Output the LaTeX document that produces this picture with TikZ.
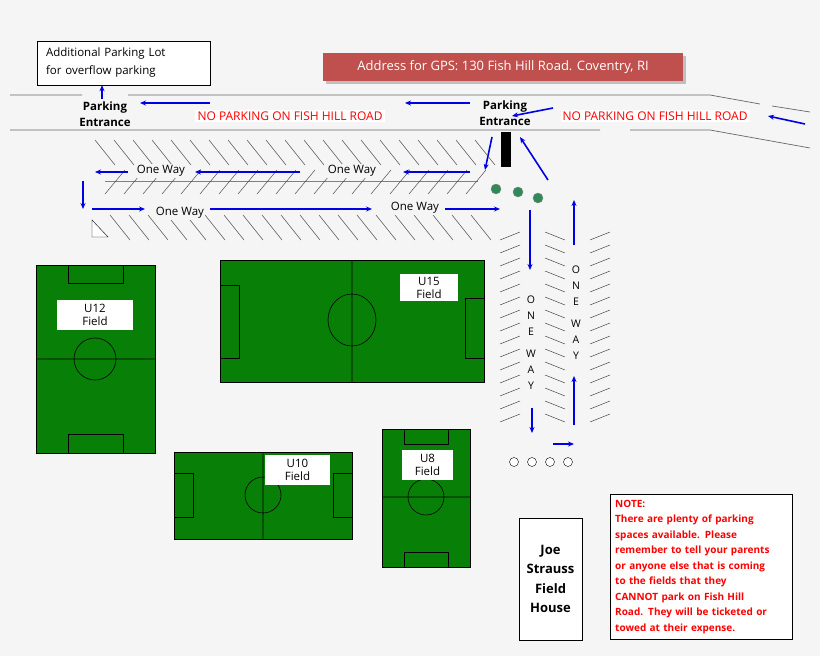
\documentclass[tikz,border=0pt]{standalone}
\usepackage{fontspec}
\setmainfont{Open Sans}
\usetikzlibrary{arrows.meta}
\definecolor{bg}{RGB}{245,245,245}
\definecolor{fieldg}{RGB}{8,128,8}
\definecolor{banner}{RGB}{192,80,77}
\definecolor{dotg}{RGB}{46,139,87}
\tikzset{
 arr/.style={blue!90!black,line width=1.6pt,-{Stealth[length=6pt,width=5pt]}},
 fld/.style={draw=black,fill=fieldg,line width=0.6pt},
 fmark/.style={draw=black,line width=0.6pt},
 lbl/.style={fill=white,font=\fontsize{11.5}{13}\selectfont,align=center,inner sep=1pt},
 txt/.style={font=\fontsize{11.5}{13}\selectfont,align=center},
 redlbl/.style={text=red,font=\fontsize{12}{14}\selectfont,fill=white,inner sep=2pt},
 hatch/.style={draw=black!70,line width=0.5pt},
 road/.style={draw=black!60,line width=0.7pt}
}
\begin{document}
\begin{tikzpicture}[x=1pt,y=-1pt]
\fill[bg] (0,0) rectangle (820,656);
\useasboundingbox (0,0) rectangle (820,656);
% top
\node[draw,minimum width=173pt,minimum height=44pt,fill=white,font=\fontsize{11.5}{18}\selectfont,align=left,text width=155pt] (lot) at (123.5,63) {Additional Parking Lot\\for overflow parking};
\fill[black!25] (326,56) rectangle (686,84);
\node[fill=banner,text=white,minimum width=360pt,minimum height=28pt,font=\fontsize{13}{14}\selectfont] (gps) at (503,67) {Address for GPS: 130 Fish Hill Road. Coventry, RI};
% roads
\draw[road] (10,95) -- (82,95) (128,95) -- (710,95) -- (760,104) (772,106) -- (810,112);
\draw[road] (10,130) -- (600,130) (630,130) -- (710,130) -- (810,148);
\node[txt,font=\fontsize{11.5}{16}\selectfont\bfseries] (pe1) at (105,114) {Parking\\Entrance};
\node[txt,font=\fontsize{11.5}{16}\selectfont\bfseries] (pe2) at (505,113) {Parking\\Entrance};
\node[redlbl] (np1) at (290,116) {NO PARKING ON FISH HILL ROAD};
\node[redlbl] (np2) at (655,116) {NO PARKING ON FISH HILL ROAD};
\coordinate (a1) at (102,99);
\draw[arr] (a1) -- (lot.south -| a1);
\draw[arr] (210,103) -- (140,103);
\draw[arr] (470,103) -- (405,103);
\draw[arr] (805,124) -- (768,116);
\draw[arr] (553,108) -- (512,116);
\fill[black] (501,132) rectangle (511,167);
\draw[arr] (492,137) -- (485,170);
\draw[arr] (548,180) -- (520,137);
% hatches horizontal lot
\foreach \x in {95,114,...,475} \draw[hatch] (\x,140) -- (\x+20,165);
\draw[black!50,line width=1pt] (105,181) -- (478,181);
\foreach \x in {105,124,...,470} \draw[hatch] (\x,194) -- (\x+20,170);
\foreach \x in {110,129,...,480} \draw[hatch] (\x,215) -- (\x+20,240);
\draw[arr] (470,172) -- (403,172);
\node[txt,fill=bg,inner sep=1pt] (ow1) at (352,171) {One Way};
\draw[arr] (300,172) -- (195,172);
\node[txt,fill=bg,inner sep=1pt] (ow2) at (161,171) {One Way};
\draw[arr] (128,172) -- (95,172);
\draw[arr] (83,181) -- (83,209);
\draw[arr] (92,209) -- (145,209);
\node[txt,fill=bg,inner sep=1pt] (ow3) at (180,213) {One Way};
\draw[arr] (210,209) -- (372,209);
\node[txt,fill=bg,inner sep=1pt] (ow4) at (415,208) {One Way};
\draw[arr] (445,209) -- (500,209);
\draw[black,fill=white] (92,220) -- (92,237) -- (108,237) -- cycle;
\foreach \p in {(496,189),(518,192),(538,198)} \fill[dotg,draw=black!50] \p circle (5);
% vertical lot
\foreach \y in {232,245,...,420} {
 \draw[hatch] (500,\y+8) -- (520,\y);
 \draw[hatch] (545,\y) -- (565,\y+8);
 \draw[hatch] (590,\y+8) -- (610,\y);
}
\draw[arr] (530,210) -- (530,270);
\node[txt,font=\fontsize{10.5}{16}\selectfont] (v1) at (531,343) {O\\N\\E\\[6pt]W\\A\\Y};
\draw[arr] (532,408) -- (532,433);
\draw[arr] (553,444) -- (574,444);
\draw[arr] (574,425) -- (574,376);
\node[txt,font=\fontsize{10.5}{16}\selectfont] (v2) at (576,313) {O\\N\\E\\[6pt]W\\A\\Y};
\draw[arr] (574,245) -- (574,200);
\foreach \x in {514,532,550,568} \draw[fill=white] (\x,462) circle (4.5);
% U12
\draw[fld] (36,265) rectangle (155,453);
\draw[fmark] (36,359) -- (155,359) (95,359) circle (21);
\draw[fmark] (68,265) rectangle (123,283) (68,434) rectangle (123,453);
\node[lbl,minimum width=76pt,minimum height=30pt] (u12) at (95,315) {U12\\Field};
% U15
\draw[fld] (220,260) rectangle (484,382);
\draw[fmark] (352,260) -- (352,382) (352,320) ellipse (24 and 26);
\draw[fmark] (220,285) rectangle (239,358) (465,298) rectangle (484,358);
\node[lbl,minimum width=58pt,minimum height=27pt] (u15) at (429,287.5) {U15\\Field};
% U10
\draw[fld] (174,452) rectangle (352,539);
\draw[fmark] (263,452) -- (263,539) (263,495) circle (18);
\draw[fmark] (174,473) rectangle (193,517) (333,473) rectangle (352,517);
\node[lbl,minimum width=65pt,minimum height=30pt] (u10) at (297.5,470) {U10\\Field};
% U8
\draw[fld] (382,429) rectangle (470,567);
\draw[fmark] (382,497) -- (470,497) (426,497) circle (18);
\draw[fmark] (404,429) rectangle (448,444) (404,552) rectangle (448,567);
\node[lbl,minimum width=51pt,minimum height=30pt] (u8) at (427.5,465) {U8\\Field};
% field house
\node[draw,fill=white,minimum width=63pt,minimum height=122pt,font=\fontsize{13}{19.5}\selectfont\bfseries,align=center] (fh) at (550.5,579) {Joe\\Strauss\\Field\\House};
\node[draw,fill=white,minimum width=182pt,minimum height=145pt,text width=172pt,align=left,text=red,font=\fontsize{10}{15.5}\selectfont\bfseries,anchor=north west,inner sep=5pt] (note) at (610,494) {NOTE:\\There are plenty of parking\\spaces available. Please\\remember to tell your parents\\or anyone else that is coming\\to the fields that they\\CANNOT park on Fish Hill\\Road. They will be ticketed or\\towed at their expense.};
\end{tikzpicture}
\end{document}
